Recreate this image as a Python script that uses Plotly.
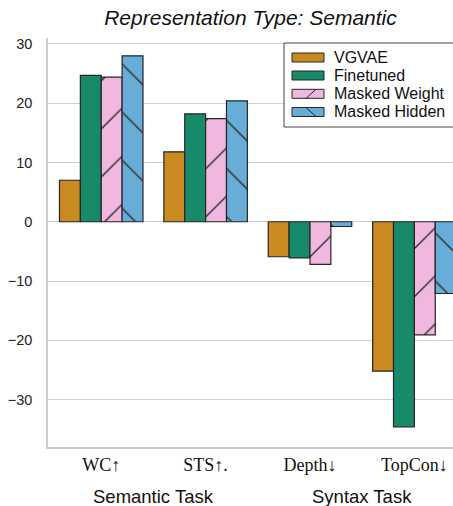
import plotly.graph_objects as go

tasks = ["WC↑", "STS↑.", "Depth↓", "TopCon↓"]
series_names = ["VGVAE", "Finetuned", "Masked Weight", "Masked Hidden"]
vgvae = [7.0, 11.8, -5.9, -25.2]
finetuned = [24.7, 18.2, -6.1, -34.6]
masked_weight = [24.4, 17.4, -7.2, -19.1]
masked_hidden = [28.0, 20.4, -0.8, -12.1]
y_ticks = [-30, -20, -10, 0, 10, 20, 30]
group_labels = ["Semantic Task", "Syntax Task"]

colors = ["#c98a21", "#178a69", "#f0b7df", "#68acd8"]
patterns = ["", "", "/", "\\"]
values = [vgvae, finetuned, masked_weight, masked_hidden]
EDGE = "#262626"

W, H = 453, 506
ML, MR, MT, MB = 48, 0, 38, 59
PW, PH = W - ML - MR, H - MT - MB


def px_x(px):
    return (px - ML) / PW


def px_y(py):
    return (H - MB - py) / PH


fig = go.Figure()
for name, vals, col, pat in zip(series_names, values, colors, patterns):
    fig.add_trace(go.Bar(
        x=list(range(len(tasks))), y=vals, name=name, showlegend=False,
        marker=dict(color=col, line=dict(color=EDGE, width=1.2),
                    pattern=dict(shape=pat, fgcolor=EDGE, fgopacity=1, size=34,
                                 solidity=0.04, fillmode="overlay")),
    ))

fig.update_layout(
    width=W, height=H,
    margin=dict(l=ML, r=MR, t=MT, b=MB),
    plot_bgcolor="white", paper_bgcolor="white",
    barmode="group", bargap=0.2, bargroupgap=0,
    font=dict(family="Liberation Sans, Arial, sans-serif", color="#222"),
    title=dict(text="<i>Representation Type: Semantic</i>", x=0.5, xref="paper", xanchor="center",
               y=1 - 18 / H, yref="container", yanchor="middle", font=dict(size=21, color="#111")),
    showlegend=False,
    xaxis=dict(range=[-0.51, 3.37], tickmode="array", tickvals=list(range(len(tasks))),
               ticktext=tasks, tickfont=dict(family="Liberation Serif, Times New Roman, serif", size=18, color="#111"),
               showgrid=False, showline=True, linecolor="#cccccc", linewidth=1.5, ticks="",
               ticklabelstandoff=1, zeroline=False),
    yaxis=dict(range=[-38, 31], tickmode="array", tickvals=y_ticks,
               ticktext=[str(v).replace("-", "\u2212") for v in y_ticks],
               tickfont=dict(size=14.5, color="#222"), showgrid=True, gridcolor="#d0d0d0", gridwidth=1,
               showline=True, linecolor="#cccccc", linewidth=1.5, ticks="", ticklabelstandoff=11,
               zeroline=False),
)

for lbl, xpos in zip(group_labels, [0.5, 2.5]):
    fig.add_annotation(text=lbl, x=xpos, xref="x", y=px_y(496), yref="paper", yanchor="middle",
                       showarrow=False, font=dict(size=18.5, color="#111"))

# custom legend (box, wide patches, labels)
fig.add_shape(type="rect", xref="paper", yref="paper", layer="above",
              x0=px_x(284), x1=px_x(470), y0=px_y(127), y1=px_y(43),
              line=dict(color="#444", width=1), fillcolor="white")
centers = [57.5, 75.5, 93.8, 112.0]
for name, col, pat, cy in zip(series_names, colors, patterns, centers):
    fig.add_shape(type="rect", xref="paper", yref="paper", layer="above",
                  x0=px_x(292), x1=px_x(324), y0=px_y(cy + 4.5), y1=px_y(cy - 4.5),
                  line=dict(color=EDGE, width=1), fillcolor=col)
    if pat == "/":
        fig.add_shape(type="line", xref="paper", yref="paper", layer="above",
                      x0=px_x(306), x1=px_x(316), y0=px_y(cy + 4.5), y1=px_y(cy - 4.5),
                      line=dict(color=EDGE, width=1))
    elif pat == "\\":
        fig.add_shape(type="line", xref="paper", yref="paper", layer="above",
                      x0=px_x(306), x1=px_x(316), y0=px_y(cy - 4.5), y1=px_y(cy + 4.5),
                      line=dict(color=EDGE, width=1))
    fig.add_annotation(text=name, x=px_x(332), y=px_y(cy), xref="paper", yref="paper",
                       xanchor="left", yanchor="middle", showarrow=False,
                       font=dict(size=16, color="#111"))

fig.write_html("out.html", config={"displayModeBar": False},
               post_script="document.body.style.margin='0';")
